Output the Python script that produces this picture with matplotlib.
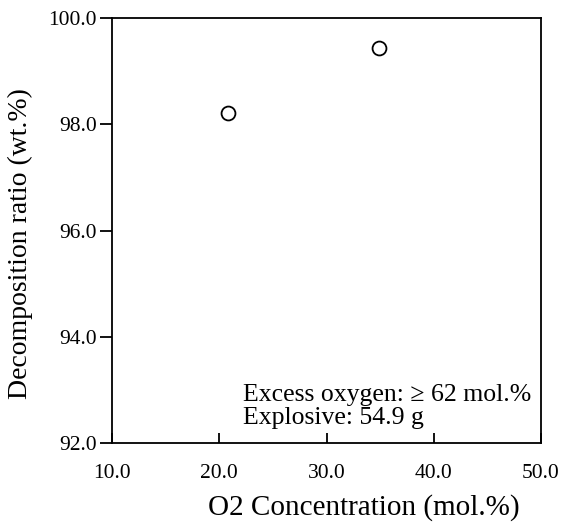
import matplotlib
matplotlib.use("Agg")
import matplotlib.pyplot as plt

o2_conc = [20.8, 34.9]
decomp_ratio = [98.22, 99.44]
x_ticks = [10.0, 20.0, 30.0, 40.0, 50.0]
y_ticks = [92.0, 94.0, 96.0, 98.0, 100.0]

plt.rcParams['font.family'] = ['Liberation Serif', 'DejaVu Serif']

fig = plt.figure(figsize=(5.62, 5.26), dpi=100)
ax = fig.add_axes([112/562, 1-443/526, (541-112)/562, (443-18)/526])

ax.plot(o2_conc, decomp_ratio, linestyle='none', marker='o', markersize=10,
        markerfacecolor='white', markeredgecolor='black', markeredgewidth=1.3)

ax.set_xlim(10, 50)
ax.set_ylim(92, 100)
ax.set_xticks(x_ticks)
ax.set_yticks(y_ticks)
ax.set_xticklabels([f"{v:.1f}" for v in x_ticks])
ax.set_yticklabels([f"{v:.1f}" for v in y_ticks])
ax.tick_params(axis='x', direction='in', length=7, width=1.3, labelsize=15.5, pad=15)
ax.tick_params(axis='y', direction='out', length=8.5, width=1.3, labelsize=15.5, pad=2.5)
for s in ax.spines.values():
    s.set_linewidth(1.3)

ax.set_xlabel("O2 Concentration (mol.%)", fontsize=21, va='center', ha='center')
ax.xaxis.set_label_coords(0.587, (443-508)/425)
ax.set_ylabel("Decomposition ratio (wt.%)", fontsize=20, va='center', ha='center')
ax.yaxis.set_label_coords((20-112)/429, (443-244)/425)

ax.text(22.2, 92.80, "Excess oxygen: \u2265 62 mol.%", fontsize=18.5, va='baseline', ha='left')
ax.text(22.2, 92.36, "Explosive: 54.9 g", fontsize=18.5, va='baseline', ha='left')

fig.savefig("out.png", dpi=100)
